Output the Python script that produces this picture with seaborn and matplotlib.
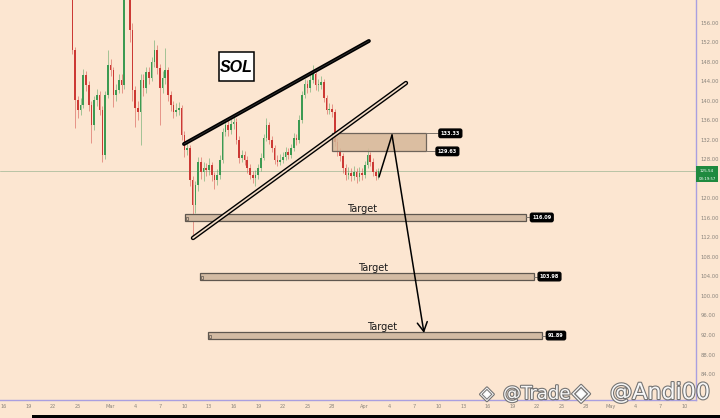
import numpy as np
import pandas as pd
import matplotlib
matplotlib.use("Agg")
import matplotlib.pyplot as plt
import matplotlib.transforms as mtransforms
import matplotlib.patheffects as pe
from matplotlib.patches import Rectangle
import seaborn as sns

# ---------------- data ----------------
axis_origin = "2025-02-16"
candle_start = "2025-02-24 08:00"
first_open = 163.0
closes = [150.4, 140.2, 138.1, 139.1, 145.3, 143.2, 139.1, 135.0, 140.2, 141.2,
          138.1, 128.9, 141.2, 147.3, 146.3, 141.2, 142.2, 144.3, 143.2, 172.0,
          175.0, 154.5, 142.2, 138.5, 137.7, 144.3, 142.6, 145.9, 144.7, 148.0,
          150.4, 146.7, 142.6, 144.7, 146.3, 141.2, 139.1, 137.7, 138.1, 138.5,
          133.0, 129.9, 130.3, 123.8, 118.6, 122.7, 127.5, 125.4, 126.2, 125.8,
          126.8, 124.8, 123.8, 124.8, 127.9, 133.6, 135.0, 134.0, 135.2, 135.7,
          132.0, 128.3, 128.9, 127.9, 126.2, 124.8, 124.2, 124.8, 126.2, 128.3,
          132.4, 135.0, 132.0, 130.3, 127.9, 127.5, 127.9, 128.5, 129.5, 128.9,
          130.3, 132.4, 132.0, 136.1, 141.2, 143.4, 142.6, 144.3, 145.5, 143.2,
          143.2, 143.8, 140.6, 138.1, 138.3, 137.7, 131.6, 129.5, 128.7, 126.2,
          124.8, 125.2, 124.6, 125.4, 124.4, 125.2, 124.8, 126.8, 128.9, 127.5,
          125.4, 124.6, 125.54]
highs = [165, 151, 141, 140.5, 146.5, 146, 144, 140, 141, 142.5,
         142, 139, 142, 150.4, 148.5, 147, 143.5, 145.5, 145.5, 176,
         180, 177, 156, 143, 140, 145.5, 145.5, 147, 147, 149,
         152.5, 151.5, 147.5, 146, 150.8, 147, 142, 140, 139.5, 139.8,
         139.2, 133.8, 131.5, 131, 124.5, 123.5, 128.5, 128.5, 127.5, 127.3,
         128.2, 127.5, 125.5, 126, 128.8, 134.5, 136.2, 136, 136.3, 137.1,
         136.4, 132.8, 130, 129.8, 128.7, 127, 125.6, 125.8, 127, 129.2,
         133.2, 136.5, 135.6, 132.8, 131, 128.8, 129, 129.5, 130.6, 130.4,
         131.2, 133.3, 133.2, 137, 142, 144.5, 144.2, 145.3, 147.3, 146.2,
         144.5, 145, 144.5, 141.2, 139.6, 139.3, 138.4, 132.3, 130.4, 129.4,
         127, 126.4, 126.2, 126.6, 126.2, 126.5, 126.3, 127.6, 130.3, 129.6,
         128.2, 126, 126.2]
lows = [149.5, 134.5, 136.5, 137, 138.5, 142, 138, 131.3, 134, 139,
        137, 127.5, 128, 140.5, 145, 138.7, 140, 141.5, 141.5, 142.5,
        168, 152, 140, 134.6, 136, 130.9, 141, 141.5, 143.5, 144,
        147, 145.5, 135, 141.5, 143.5, 140, 138, 136.5, 136.8, 137,
        132, 128.5, 128.8, 122.5, 111.9, 117, 121.5, 124, 123.5, 124.5,
        124.8, 123.5, 122, 122.8, 124, 127.2, 132.8, 132.8, 133.2, 134.3,
        131.2, 127.3, 127.5, 126.8, 125.3, 123.9, 123.2, 122.6, 124, 125.6,
        127.8, 131.8, 131.2, 129.5, 127, 126.6, 126.8, 127.2, 127.9, 128,
        128.3, 129.7, 131, 131.4, 135.5, 140.5, 141.5, 141.8, 143.6, 142.3,
        142, 142.4, 139.8, 137.2, 137.2, 136.6, 130.7, 128.6, 127.6, 125.2,
        123.7, 123.9, 123.5, 123.8, 123.2, 123.5, 123.7, 124.2, 126.2, 126.6,
        124.6, 123.8, 124]

tick_days = [0, 3, 6, 9, 13, 16, 19, 22, 25, 28, 31, 34, 37, 40, 44, 47, 50,
             53, 56, 59, 62, 65, 68, 71, 74, 77, 80, 83]
tick_labels = ["16", "19", "22", "25", "Mar", "4", "7", "10", "13", "16", "19",
               "22", "25", "28", "Apr", "4", "7", "10", "13", "16", "19", "22",
               "25", "28", "May", "4", "7", "10"]
# 124.00 is hidden behind the live price tag in the reference
price_ticks = [84, 88, 92, 96, 100, 104, 108, 112, 116, 120, 128, 132,
               136, 140, 144, 148, 152, 156]

symbol = "SOL"
current_price = 125.54
countdown = "03:19:57"

# channel anchors (day offset, price)
upper_days = [21.95, 44.5]
upper_prices = [131.14, 152.25]
lower_days = [23.05, 49.02]
lower_prices = [111.88, 143.64]

# resistance zone
zone_days = [39.96, 51.46]
zone_prices = [129.63, 133.33]

# targets
target_levels = [116.09, 103.98, 91.89]
target_start = [22.07, 23.9, 24.9]
target_end = [63.66, 64.6, 65.6]

# symbol label box
symbol_days = [26.22, 30.49]
symbol_prices = [144.05, 149.99]

# projected path
path_days = [45.73, 47.32, 51.22]
path_prices = [124.38, 132.99, 92.41]

# ---------------- styling ----------------
bg = "#fce6d1"
up_col = "#3c9a52"
dn_col = "#cc3934"
axis_col = "#a99fe0"
tick_col = "#8a847c"

sns.set_theme(style="white")
plt.rcParams["font.family"] = ["DejaVu Sans"]

fig = plt.figure(figsize=(7.2, 4.18), dpi=100, facecolor=bg)
ax = fig.add_axes([0, 18 / 418, 696 / 720, 400 / 418])
ax.set_facecolor(bg)

times = pd.date_range(candle_start, periods=len(closes), freq="8h")
days = ((times - pd.Timestamp(axis_origin)) / pd.Timedelta(days=1)).to_numpy()
opens = np.array([first_open] + closes[:-1])
c = np.array(closes)
h = np.array(highs)
l = np.array(lows)
is_up = c >= opens
colors = np.where(is_up, up_col, dn_col)

df = pd.DataFrame({"day": days, "open": opens, "close": c, "high": h, "low": l})

# current price line
ax.axhline(current_price, color="#b8c3a5", lw=0.7, zorder=1)

# wicks + bodies
ax.vlines(df["day"], df["low"], df["high"], colors=colors, lw=0.6, alpha=0.55, zorder=2)
body_bottom = np.minimum(opens, c)
body_h = np.maximum(np.abs(c - opens), 0.25)
ax.bar(df["day"], body_h, bottom=body_bottom, width=0.2, color=colors,
       linewidth=0, zorder=2.2)

# channel lines
sns.lineplot(x=upper_days, y=upper_prices, ax=ax, color="black", lw=2.8,
             sort=False, estimator=None, zorder=4)
sns.lineplot(x=upper_days, y=upper_prices, ax=ax, color="#3a3a3a", lw=0.5,
             sort=False, estimator=None, zorder=4.1)
sns.lineplot(x=lower_days, y=lower_prices, ax=ax, color="black", lw=3.2,
             sort=False, estimator=None, zorder=4)
sns.lineplot(x=lower_days, y=lower_prices, ax=ax, color="#f3dcc6", lw=1.2,
             sort=False, estimator=None, zorder=4.1)

# resistance zone
ax.add_patch(Rectangle((zone_days[0], zone_prices[0]), zone_days[1] - zone_days[0],
                       zone_prices[1] - zone_prices[0], facecolor=(0.84, 0.72, 0.60, 0.85),
                       edgecolor="#6f655b", lw=0.9, zorder=3))
label_box = dict(boxstyle="round,pad=0.35,rounding_size=0.35", fc="black", ec="black")
for lvl, xl in zip(zone_prices, [52.55, 52.9]):
    ax.plot([zone_days[1], xl], [lvl, lvl], color="#7d746b", lw=0.7, zorder=3)
    ax.text(xl + 0.35, lvl, f"{lvl:.2f}", color="white", fontsize=3.6, fontweight="bold",
            ha="left", va="center", bbox=label_box, zorder=5)

# targets
for lvl, x0, x1 in zip(target_levels, target_start, target_end):
    ax.add_patch(Rectangle((x0, lvl - 0.7), x1 - x0, 1.4, facecolor="#d3bba3",
                           edgecolor="#5f574f", lw=0.9, zorder=3))
    ax.add_patch(Rectangle((x0 + 0.15, lvl - 0.45), 0.25, 0.5, facecolor="none",
                           edgecolor="#5f574f", lw=0.5, zorder=3.1))
    ax.plot([x1, x1 + 0.35], [lvl, lvl], color="#7d746b", lw=0.7, zorder=3)
    ax.text(x1 + 0.75, lvl, f"{lvl:.2f}", color="white", fontsize=3.6, fontweight="bold",
            ha="left", va="center", bbox=label_box, zorder=5)
    ax.text(x0 + (x1 - x0) * 0.52, lvl + 1.65, "Target", color="#1a1a1a", fontsize=7,
            ha="center", va="center", zorder=5)

# projected path with arrow
sns.lineplot(x=path_days[:2], y=path_prices[:2], ax=ax, color="black", lw=1.1,
             sort=False, estimator=None, zorder=5)
ax.annotate("", xy=(path_days[2], path_prices[2]), xytext=(path_days[1], path_prices[1]),
            arrowprops=dict(arrowstyle="->,head_length=0.55,head_width=0.3",
                            color="black", lw=1.1, shrinkA=0, shrinkB=0), zorder=5)

# symbol box
ax.add_patch(Rectangle((symbol_days[0], symbol_prices[0]), symbol_days[1] - symbol_days[0],
                       symbol_prices[1] - symbol_prices[0], facecolor="white",
                       edgecolor="black", lw=1.1, zorder=6))
ax.text(sum(symbol_days) / 2, sum(symbol_prices) / 2 - 0.1, symbol, fontsize=11.5,
        fontstyle="italic", fontweight="bold", family=["Liberation Sans", "DejaVu Sans"],
        color="black", ha="center", va="center", zorder=7)

# axes
ax.set_xlim(-4 / 8.2, 692 / 8.2)
ax.set_ylim(160.65 - 400 / 4.88, 160.65)
ax.set_xticks(tick_days)
ax.set_xticklabels(tick_labels)
ax.yaxis.tick_right()
ax.set_yticks(price_ticks)
ax.set_yticklabels([f"{p:.2f}" for p in price_ticks])
ax.tick_params(axis="x", length=0, pad=3, labelsize=3.6, colors=tick_col)
ax.tick_params(axis="y", length=0, pad=3, labelsize=3.8, colors=tick_col)
for s in ["left", "top"]:
    ax.spines[s].set_visible(False)
for s in ["right", "bottom"]:
    ax.spines[s].set_color(axis_col)
    ax.spines[s].set_linewidth(1.0)
ax.grid(False)

# current price tag on the axis
blend = mtransforms.blended_transform_factory(ax.transAxes, ax.transData)
ax.add_patch(Rectangle((1.0, current_price - 2.2), 22 / 696, 3.3, transform=blend,
                       facecolor="#1f8a3f", edgecolor="none", clip_on=False, zorder=6))
ax.text(1.0 + 11 / 696, current_price + 0.15, f"{current_price:.2f}", transform=blend,
        color="white", fontsize=3.0, ha="center", va="center", clip_on=False, zorder=7)
ax.text(1.0 + 11 / 696, current_price - 1.55, countdown, transform=blend,
        color="white", fontsize=2.8, ha="center", va="center", clip_on=False, zorder=7)

# watermark
stroke = [pe.withStroke(linewidth=1.6, foreground="#6e6e6e")]
fig.text(480 / 720, 24 / 418, "◈", fontsize=13, color="white", ha="left", va="center",
         path_effects=stroke, alpha=0.95)
fig.text(503 / 720, 24 / 418, "@Trade", fontsize=13, color="white", ha="left",
         va="center", path_effects=stroke, alpha=0.95)
fig.text(572 / 720, 25 / 418, "◈", fontsize=17, color="white", ha="left", va="center",
         path_effects=stroke, alpha=0.95)
fig.text(610 / 720, 25 / 418, "@Andi00", fontsize=16, color="white", ha="left",
         va="center", path_effects=stroke, alpha=0.95)

# bottom frame band
fig.add_artist(Rectangle((32 / 720, 0), 1, 3.5 / 418, transform=fig.transFigure,
                         facecolor="black", edgecolor="none"))

fig.savefig("out.png", dpi=100, facecolor=bg)
